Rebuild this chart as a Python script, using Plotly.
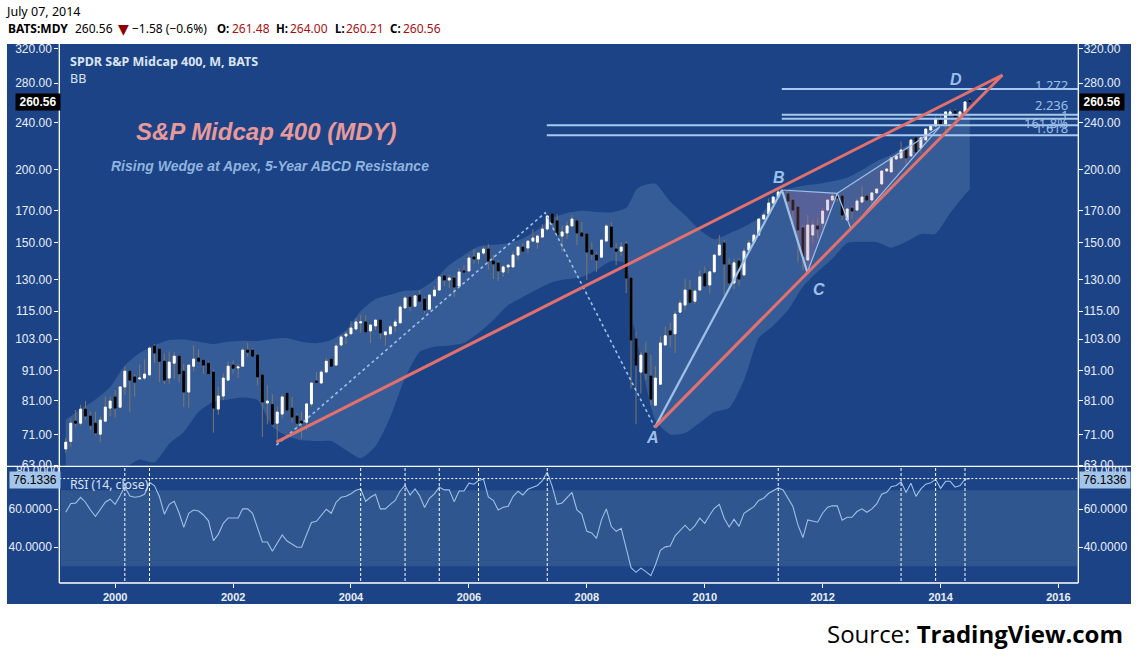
import numpy as np
import pandas as pd
import plotly.graph_objects as go

# monthly bars, Mar 1999 to Jul 2014
opens = [
    67.1, 69.1, 74.8, 74.2, 78.4, 76.3, 74.2, 71.1, 74.8, 78.7,
    82.2, 79.0, 85.5, 90.9, 88.9, 88.2, 88.5, 89.6, 100.3, 99.1, 94.5, 88.5,
    93.8, 96.4, 90.9, 83.8, 92.7, 95.7, 94.9, 93.8, 90.6, 78.4, 82.5, 87.8,
    93.1, 92.1, 92.7, 98.7, 98.7, 96.8, 89.6, 80.3, 79.8, 74.2, 76.9, 83.4,
    78.7, 76.3, 74.8, 74.5, 80.0, 87.5, 86.8, 90.6, 95.3, 93.1, 100.7, 104.3,
    105.2, 107.2, 109.8, 110.2, 106.4, 108.5, 111.0, 104.8, 105.2, 108.5, 109.8, 116.4,
    121.4, 117.2, 122.4, 120.5, 115.8, 122.0, 124.8, 131.9, 129.8, 130.8, 126.8, 134.5,
    134.5, 142.0, 140.9, 144.2, 146.5, 139.8, 138.7, 133.9, 136.6, 136.6, 143.1, 147.6,
    147.1, 151.1, 150.5, 153.5, 158.4, 168.0, 163.5, 154.1, 156.0, 160.3, 163.5, 156.0,
    155.3, 145.9, 143.1, 141.9, 151.1, 159.7, 146.5, 145.3, 149.4, 130.8, 103.1, 90.6,
    97.6, 89.2, 79.6, 86.4, 100.7, 106.4, 105.2, 114.5, 117.7, 124.8, 119.5, 124.8,
    133.0, 127.3, 134.0, 143.1, 150.0, 137.6, 128.3, 139.8, 132.4, 145.9, 150.5, 154.7,
    164.7, 168.0, 175.3, 179.5, 184.5, 181.7, 177.4, 172.6, 159.1, 140.3, 154.7, 160.3,
    162.0, 170.6, 177.4, 180.2, 180.2, 164.1, 171.9, 170.6, 176.0, 180.2, 177.4, 182.4,
    188.9, 198.7, 198.0, 208.2, 209.1, 215.7, 210.7, 226.1, 217.4, 224.3, 233.2, 236.9,
    242.5, 238.8, 247.3, 251.2, 245.4, 250.3, 261.48,
]
highs = [
    70.0, 75.7, 78.1, 79.7, 80.9, 77.6, 77.6, 76.1, 82.3, 82.3,
    84.4, 85.5, 92.7, 90.9, 89.9, 93.3, 95.2, 100.0, 101.1, 99.4, 97.4, 98.2,
    97.9, 96.4, 93.6, 93.1, 100.7, 99.1, 94.9, 94.5, 91.5, 85.5, 90.1, 94.3,
    94.9, 93.6, 99.5, 101.6, 99.4, 96.8, 89.6, 86.0, 83.1, 79.3, 82.8, 83.5,
    82.2, 77.1, 77.6, 80.0, 86.8, 90.6, 91.3, 95.7, 95.5, 101.4, 104.7, 106.1,
    110.6, 111.9, 113.2, 113.2, 108.9, 111.0, 111.0, 106.0, 108.9, 111.4, 117.7, 122.0,
    121.4, 122.4, 124.8, 121.6, 122.7, 126.8, 131.9, 131.9, 132.4, 132.1, 135.9, 137.6,
    143.1, 146.5, 144.2, 147.9, 149.4, 143.1, 140.3, 137.6, 137.6, 145.3, 147.6, 149.9,
    151.1, 158.4, 155.3, 161.4, 166.7, 168.0, 168.0, 160.3, 163.0, 167.3, 163.5, 162.8,
    155.3, 150.5, 144.8, 151.7, 161.5, 162.8, 149.9, 150.5, 151.1, 130.8, 106.0, 98.1,
    102.0, 96.8, 92.7, 104.1, 108.2, 110.0, 115.0, 120.0, 130.6, 129.8, 125.1, 135.0,
    136.8, 134.0, 143.1, 154.7, 151.7, 141.2, 141.2, 141.2, 146.9, 151.7, 155.7, 165.2,
    168.4, 178.6, 180.2, 184.5, 184.5, 182.2, 178.6, 172.6, 160.9, 167.3, 164.1, 165.2,
    171.7, 177.4, 182.1, 182.1, 181.0, 171.3, 173.3, 178.6, 186.9, 180.2, 183.1, 185.7,
    198.7, 200.5, 209.5, 211.0, 222.9, 215.7, 224.6, 226.7, 226.1, 234.5, 237.3, 245.8,
    246.4, 250.3, 252.9, 253.2, 251.2, 261.0, 264.0,
]
lows = [
    66.1, 67.7, 73.2, 73.5, 75.3, 72.2, 70.8, 68.9, 74.8, 76.3,
    75.8, 79.0, 82.8, 77.6, 82.3, 88.2, 87.8, 89.3, 93.9, 87.1, 86.4, 86.6,
    88.3, 87.1, 79.1, 78.8, 90.9, 94.2, 89.9, 89.6, 71.5, 76.6, 81.2, 87.8,
    90.0, 88.5, 92.7, 96.2, 96.2, 86.0, 70.3, 73.9, 73.9, 68.5, 75.6, 78.1,
    74.4, 71.6, 69.9, 72.2, 79.1, 86.9, 86.7, 90.6, 92.7, 93.1, 100.0, 101.1,
    105.2, 106.5, 105.6, 106.0, 101.5, 106.8, 103.1, 100.4, 104.8, 106.0, 109.8, 116.2,
    115.0, 117.2, 119.5, 114.0, 115.8, 122.0, 124.8, 126.8, 125.8, 121.4, 126.8, 133.7,
    134.5, 138.2, 138.2, 143.1, 135.2, 130.3, 129.3, 131.4, 133.4, 136.6, 140.3, 145.3,
    144.2, 151.1, 146.5, 153.5, 157.4, 159.7, 154.1, 145.0, 152.3, 160.3, 148.8, 154.1,
    129.8, 140.3, 133.9, 141.9, 151.1, 147.6, 137.6, 142.5, 123.3, 85.0, 73.9, 83.3,
    87.8, 79.6, 79.6, 86.4, 100.7, 100.0, 97.6, 114.5, 115.4, 119.0, 118.2, 124.8,
    126.8, 123.2, 134.0, 143.1, 122.4, 128.1, 125.3, 126.8, 132.4, 145.9, 150.5, 154.7,
    164.7, 168.0, 175.0, 179.5, 181.0, 170.6, 160.9, 139.4, 135.0, 140.3, 149.8, 152.7,
    158.8, 169.5, 176.2, 176.2, 164.1, 164.1, 165.2, 170.6, 176.0, 177.4, 175.2, 182.1,
    188.9, 198.5, 198.0, 208.0, 209.1, 202.1, 210.7, 214.0, 212.9, 224.3, 233.0, 236.9,
    236.9, 231.7, 247.3, 245.2, 245.2, 250.3, 260.21,
]
closes = [
    68.9, 74.2, 74.2, 78.4, 76.3, 73.6, 71.4, 75.1, 79.0, 80.9,
    78.7, 85.5, 90.9, 87.8, 87.1, 88.5, 89.9, 99.5, 97.6, 94.5, 87.8, 94.2,
    96.4, 90.0, 83.8, 93.1, 95.3, 94.5, 93.1, 90.0, 78.7, 82.5, 88.5, 92.7,
    92.0, 92.4, 98.7, 97.9, 96.4, 88.9, 80.6, 80.9, 73.9, 77.5, 82.2, 78.1,
    76.0, 74.2, 74.2, 80.0, 86.8, 87.1, 90.6, 94.5, 92.7, 100.3, 103.9, 105.1,
    107.6, 110.2, 110.2, 106.0, 108.9, 111.0, 105.6, 106.0, 108.1, 110.2, 116.8, 121.0,
    117.2, 122.0, 119.5, 115.4, 122.4, 124.8, 131.4, 129.8, 130.8, 126.3, 133.9, 133.9,
    141.4, 140.9, 144.2, 146.5, 139.8, 138.2, 134.5, 136.6, 137.6, 143.1, 147.6, 145.3,
    151.1, 152.9, 154.1, 158.4, 166.7, 162.2, 154.7, 156.6, 160.3, 164.7, 156.0, 154.1,
    144.8, 143.6, 140.3, 151.7, 160.3, 147.6, 145.3, 147.6, 130.8, 102.7, 93.1, 96.8,
    90.2, 81.5, 88.5, 101.5, 104.4, 104.8, 113.6, 118.6, 124.8, 119.0, 124.3, 131.4,
    126.8, 134.0, 143.1, 148.8, 138.2, 128.3, 138.8, 130.3, 145.3, 150.0, 154.7, 164.7,
    167.3, 175.3, 179.5, 183.1, 183.1, 176.7, 170.6, 157.8, 142.2, 160.9, 160.9, 158.4,
    169.9, 177.4, 180.2, 178.8, 167.3, 171.3, 169.9, 176.7, 179.5, 177.4, 182.4, 185.2,
    198.7, 200.3, 209.1, 210.8, 215.7, 209.1, 224.3, 214.0, 226.1, 234.1, 236.9, 243.5,
    238.8, 250.3, 250.3, 245.4, 250.3, 260.2, 260.56,
]
rsi = [
    58.4, 63.0, 63.2, 66.3, 63.7, 59.6, 56.3, 60.0, 63.7, 65.3,
    62.6, 67.2, 71.8, 67.0, 66.3, 66.7, 67.9, 74.2, 72.3, 66.7, 57.4, 62.6,
    64.2, 57.9, 50.5, 57.9, 59.6, 59.1, 57.0, 53.9, 43.5, 46.8, 52.6, 55.4,
    55.4, 55.4, 60.2, 60.2, 57.9, 50.4, 42.8, 42.8, 37.9, 42.1, 46.5, 43.3,
    41.8, 40.0, 40.0, 46.8, 53.0, 53.7, 57.0, 60.0, 57.9, 63.7, 66.3, 66.8,
    68.2, 70.0, 70.7, 64.2, 66.3, 67.9, 60.2, 60.2, 62.6, 64.6, 69.6, 72.5,
    67.5, 70.7, 67.2, 60.9, 65.8, 68.1, 71.6, 70.2, 70.2, 64.0, 69.6, 69.6,
    73.7, 73.2, 75.1, 75.8, 66.5, 64.7, 59.6, 61.1, 61.6, 66.7, 69.5, 67.5,
    70.5, 71.4, 72.5, 75.1, 79.5, 71.9, 62.6, 63.3, 66.3, 68.9, 59.6, 57.5,
    48.4, 47.5, 44.7, 54.4, 60.2, 50.9, 48.4, 50.0, 39.5, 29.3, 26.8, 29.0,
    27.2, 25.1, 30.7, 38.4, 40.2, 40.7, 46.0, 48.6, 51.6, 48.8, 51.4, 55.3,
    52.6, 57.0, 60.5, 62.6, 55.3, 50.7, 54.7, 51.0, 57.9, 59.6, 61.4, 64.6,
    65.8, 68.4, 69.6, 71.2, 70.2, 65.8, 61.4, 51.8, 45.1, 54.4, 53.9, 53.2,
    57.9, 61.1, 61.8, 61.8, 54.2, 55.8, 55.8, 58.8, 60.2, 58.4, 60.2, 62.8,
    67.9, 68.9, 71.9, 72.5, 74.4, 68.8, 73.7, 66.8, 70.7, 73.2, 73.9, 75.8,
    71.0, 74.7, 74.7, 71.6, 72.5, 75.8, 76.13,
]

# Bollinger bands read every third bar plus the Oct/Nov 2008 jump
bb_idx = sorted(list(range(0, 184, 3)) + [115, 116, 184])
bb_upper = [
    75.3, 78.3, 81.4, 85.5, 93.0, 97.6, 100.6, 102.7, 102.9, 102.0, 101.1, 102.0, 102.4,
    102.3, 103.2, 103.5, 102.0, 101.4, 102.7, 106.7, 114.9, 120.5, 122.6, 124.5, 125.0,
    129.8, 137.7, 143.0, 147.9, 148.9, 149.9, 152.7, 157.8, 165.2, 168.6, 170.1, 169.3,
    169.0, 172.0, 177.4, 184.5, 187.2, 189.0, 176.2, 167.2, 157.8, 152.2, 155.7, 159.8,
    165.2, 178.6, 185.0, 187.6, 188.9, 190.9, 193.6, 199.5, 206.5, 211.5, 219.0, 228.0,
    238.0, 243.0, 246.0, 247.0,
]
bb_lower = [
    60.0, 60.0, 61.0, 61.5, 62.4, 64.4, 63.7, 68.5, 71.7, 77.6, 80.7, 81.4, 82.0,
    81.2, 73.2, 70.6, 69.4, 69.2, 69.2, 66.8, 64.7, 67.8, 76.0, 88.5, 98.0,
    100.0, 100.5, 101.5, 105.5, 111.0, 117.7, 121.5, 125.3, 128.7, 130.3, 131.4, 135.0,
    139.8, 138.3, 112.5, 105.0, 94.9, 75.1, 71.0, 71.4, 74.3, 77.5, 78.7, 87.8,
    103.5, 108.6, 115.4, 126.4, 134.0, 141.0, 150.0, 150.7, 150.6, 147.3, 150.7, 155.4,
    155.4, 168.6, 181.3, 185.0,
]

# hand drawn objects on the chart
wedge_upper_x = ["2002-09-26", "2015-01-19"]
wedge_upper_y = [68.9, 289.1]
wedge_lower_x = ["2009-02-26", "2015-01-19"]
wedge_lower_y = [73.0, 289.1]
swing_x = ["2002-09-26", "2007-04-18", "2009-02-26"]
swing_y = [68.1, 168.8, 73.0]
ab_x = ["2009-02-26", "2011-04-24", "2011-09-28"]
ab_y = [73.0, 184.5, 133.8]
tri1_x = ["2011-04-24", "2011-09-28", "2012-04-01", "2011-04-24"]
tri1_y = [184.5, 133.8, 182.1, 184.5]
tri2_x = ["2012-04-01", "2012-06-25", "2013-12-28", "2012-04-01"]
tri2_y = [182.1, 158.4, 236.2, 182.1]
fib_levels = [273.7, 247.6, 243.7, 237.5, 228.4]
fib_starts = ["2011-04-23", "2011-04-23", "2011-04-23", "2007-04-28", "2007-04-28"]
rsi_marks = [12, 17, 60, 69, 76, 84, 98, 145, 170, 177, 183]

price_ticks = [320, 280, 240, 200, 170, 150, 130, 115, 103, 91, 81, 71, 63]
rsi_ticks = [80, 60, 40]
year_ticks = [2000, 2002, 2004, 2006, 2008, 2010, 2012, 2014, 2016]

last_close = 260.56
last_rsi = 76.1336

BLUE = "#1c4386"
BAND = "#365c98"
LIGHT = "#9dc0e8"
RED = "#e2706c"
AXIS_TEXT = "#e9eef6"
W, H = 1138, 661

dates = pd.date_range("1999-03-01", periods=len(closes), freq="MS").strftime("%Y-%m-%d").tolist()
bb_x = [dates[i] for i in bb_idx]
x_end = "2016-05-03"

fig = go.Figure()

# Bollinger band area sits on the base axis, so it stays under the candles
fig.add_trace(go.Scatter(x=bb_x, y=bb_lower, mode="lines", line=dict(width=0, shape="spline", smoothing=0.6)))
fig.add_trace(go.Scatter(x=bb_x, y=bb_upper, mode="lines", line=dict(width=0, shape="spline", smoothing=0.6),
                         fill="tonexty", fillcolor=BAND))

# wicks first, then clean bodies on top
fig.add_trace(go.Candlestick(x=dates, open=opens, high=highs, low=lows, close=closes, whiskerwidth=0, yaxis="y3",
                             increasing=dict(line=dict(color="#7d7869", width=1), fillcolor="#7d7869"),
                             decreasing=dict(line=dict(color="#7d7869", width=1), fillcolor="#7d7869")))
body_top = [max(a, b) for a, b in zip(opens, closes)]
body_bot = [min(a, b) for a, b in zip(opens, closes)]
fig.add_trace(go.Candlestick(x=dates, open=opens, high=body_top, low=body_bot, close=closes, whiskerwidth=0, yaxis="y3",
                             increasing=dict(line=dict(color="white", width=1), fillcolor="white"),
                             decreasing=dict(line=dict(color="black", width=1), fillcolor="black")))

# drawings go on one more overlay, above the candles
fig.add_trace(go.Scatter(x=swing_x, y=swing_y, mode="lines", yaxis="y5", line=dict(color=LIGHT, width=1.6, dash="dot")))
fig.add_trace(go.Scatter(x=tri1_x, y=tri1_y, mode="lines", yaxis="y5", fill="toself",
                         fillcolor="rgba(170,110,150,0.27)", line=dict(color=LIGHT, width=1.2)))
fig.add_trace(go.Scatter(x=tri2_x, y=tri2_y, mode="lines", yaxis="y5", fill="toself",
                         fillcolor="rgba(170,110,150,0.14)", line=dict(color=LIGHT, width=1.2)))
fig.add_trace(go.Scatter(x=ab_x, y=ab_y, mode="lines", yaxis="y5", line=dict(color=LIGHT, width=2.2)))
for level, start in zip(fib_levels, fib_starts):
    fig.add_trace(go.Scatter(x=[start, x_end], y=[level, level], mode="lines", yaxis="y5",
                             line=dict(color="#a9c9ec", width=2)))
fig.add_trace(go.Scatter(x=wedge_upper_x, y=wedge_upper_y, mode="lines", yaxis="y5", line=dict(color=RED, width=3)))
fig.add_trace(go.Scatter(x=wedge_lower_x, y=wedge_lower_y, mode="lines", yaxis="y5", line=dict(color=RED, width=3)))

# RSI panel
fig.add_trace(go.Scatter(x=dates, y=rsi, mode="lines", yaxis="y2", line=dict(color=LIGHT, width=1.1)))
# copy so the right hand RSI axis gets drawn
fig.add_trace(go.Scatter(x=dates, y=rsi, mode="lines", yaxis="y4", line=dict(width=0), opacity=0))


def px(x):
    return x / W


def py(y):
    return 1 - y / H


price_range = [np.log10(62.9), np.log10(326.3)]
rsi_range = [21.2, 82.6]
y_dom = [py(465.5), py(44)]
y2_dom = [py(583), py(466.3)]
tick_font = dict(family="Liberation Sans", size=12, color=AXIS_TEXT)
price_axis = dict(type="log", range=price_range, domain=y_dom, tickmode="array", tickvals=price_ticks,
                  ticktext=[f"{v:.2f}" for v in price_ticks], ticks="outside", ticklen=4, tickcolor="white",
                  tickfont=tick_font, showgrid=False, zeroline=False, showline=False)
# the 80 label is half hidden in the reference, it is written as a note further down
rsi_axis = dict(range=rsi_range, domain=y2_dom, tickmode="array", tickvals=rsi_ticks,
                ticktext=["" if v == 80 else f"{v:.4f}" for v in rsi_ticks], ticks="outside", ticklen=4,
                tickcolor="white", tickfont=tick_font, showgrid=False, zeroline=False, showline=False)

shapes = [
    # panel and RSI band
    dict(type="rect", xref="paper", yref="paper", x0=px(7), x1=px(1131), y0=py(604), y1=py(44),
         fillcolor=BLUE, line_width=0, layer="below"),
    dict(type="rect", xref="paper", yref="y2", x0=px(61), x1=px(1077), y0=30, y1=70,
         fillcolor="#30568f", line_width=0, layer="below"),
    # cut the 63.00 labels at the panel edge
    dict(type="rect", xref="paper", yref="paper", x0=px(7), x1=px(59), y0=py(473), y1=py(466),
         fillcolor=BLUE, line_width=0),
    dict(type="rect", xref="paper", yref="paper", x0=px(1079), x1=px(1131), y0=py(473), y1=py(466),
         fillcolor=BLUE, line_width=0),
    # frame
    dict(type="line", xref="paper", yref="paper", x0=px(59.3), x1=px(59.3), y0=py(583), y1=py(44),
         line=dict(color="white", width=1.3)),
    dict(type="line", xref="paper", yref="paper", x0=px(1078.3), x1=px(1078.3), y0=py(583), y1=py(44),
         line=dict(color="white", width=1.3)),
    dict(type="line", xref="paper", yref="paper", x0=px(7), x1=px(1131), y0=py(466.3), y1=py(466.3),
         line=dict(color="white", width=1.3)),
    dict(type="line", xref="paper", yref="paper", x0=px(59.3), x1=px(1078.3), y0=py(583), y1=py(583),
         line=dict(color="white", width=1.3)),
    # RSI last value
    dict(type="line", xref="paper", yref="y2", x0=px(59.3), x1=px(1078.3), y0=last_rsi, y1=last_rsi,
         line=dict(color="white", width=1, dash="2px,2px")),
]
for i in rsi_marks:
    shapes.append(dict(type="line", xref="x", yref="paper", x0=dates[i], x1=dates[i], y0=py(581), y1=py(466.3),
                       line=dict(color="white", width=1, dash="3px,2px")))


def note(text, x, y, size=12, color="black", family="Noto Sans", xanchor="left", **kw):
    return dict(text=text, xref="paper", yref="paper", x=px(x), y=py(y), xanchor=xanchor, yanchor="middle",
                showarrow=False, font=dict(size=size, color=color, family=family), borderpad=0, **kw)


DARK_RED = "#a80f0f"
annotations = [
    note("July 07, 2014", 5, 12, size=12.5),
    note("<b>BATS:MDY</b>", 7, 29, size=12),
    note("260.56", 74, 29, size=12),
    note("▼", 117, 29, size=14, color="#8c0000", family="DejaVu Sans"),
    note("−1.58 (−0.6%)", 131, 29, size=12),
    note("<b>O:</b>", 216, 29, size=11.5),
    note("261.48", 231, 29, size=12, color=DARK_RED),
    note("<b>H:</b>", 275, 29, size=11.5),
    note("264.00", 289, 29, size=12, color=DARK_RED),
    note("<b>L:</b>", 334, 29, size=11.5),
    note("260.21", 345, 29, size=12, color=DARK_RED),
    note("<b>C:</b>", 389, 29, size=11.5),
    note("260.56", 402, 29, size=12, color=DARK_RED),
    note("<b>SPDR S&P Midcap 400, M, BATS</b>", 69, 61, size=12.5, color="#dbe4f1"),
    note("BB", 69, 78, size=12.5, color="#dbe4f1"),
    note("RSI (14, close)", 69, 484, size=12.2, color="#dbe4f1"),
    note("<b><i>S&P Midcap 400 (MDY)</i></b>", 266, 132, size=24, color="#e89a9a", family="Liberation Sans",
         xanchor="center"),
    note("<b><i>Rising Wedge at Apex, 5-Year ABCD Resistance</i></b>", 270, 166, size=14, color="#8fb4de",
         family="Liberation Sans", xanchor="center"),
    note("<b><i>A</i></b>", 652, 437, size=16, color=LIGHT, family="Liberation Sans", xanchor="center"),
    note("<b><i>B</i></b>", 779, 178, size=16, color=LIGHT, family="Liberation Sans", xanchor="center"),
    note("<b><i>C</i></b>", 819, 289, size=16, color=LIGHT, family="Liberation Sans", xanchor="center"),
    note("<b><i>D</i></b>", 956, 80, size=16, color=LIGHT, family="Liberation Sans", xanchor="center"),
    note("1.272", 1069, 85, size=13, color=LIGHT, xanchor="right"),
    note("2.236", 1069, 105, size=13, color=LIGHT, xanchor="right"),
    note("1", 1069, 115, size=13, color=LIGHT, xanchor="right"),
    note("161.8%", 1069, 123, size=13, color=LIGHT, xanchor="right"),
    note("1.618", 1069, 128, size=13, color=LIGHT, xanchor="right"),
    note("Source: <b>TradingView.com</b>", 1124, 633, size=24, xanchor="right", family="Open Sans"),
    note("80.0000", 15, 471, size=12, color=AXIS_TEXT, family="Liberation Sans"),
    note("80.0000", 1083, 471, size=12, color=AXIS_TEXT, family="Liberation Sans"),
    note(f"<b>{last_close:.2f}</b>", 15, 102, size=12, color="white", family="Liberation Sans",
         bgcolor="black", width=44, height=16),
    note(f"<b>{last_close:.2f}</b>", 1078.5, 102, size=12, color="white", family="Liberation Sans",
         bgcolor="black", width=44, height=16),
    note(f"{last_rsi:.4f}", 9, 480, size=12, color="black", family="Liberation Sans",
         bgcolor="#a3c5e9", width=50, height=16),
    note(f"{last_rsi:.4f}", 1078.5, 480, size=12, color="black", family="Liberation Sans",
         bgcolor="#a3c5e9", width=50, height=16),
]

fig.update_layout(
    width=W,
    height=H,
    margin=dict(l=0, r=0, t=0, b=0, autoexpand=False),
    paper_bgcolor="white",
    plot_bgcolor="rgba(0,0,0,0)",
    showlegend=False,
    hovermode=False,
    boxgap=0.4,
    xaxis=dict(
        type="date",
        domain=[px(59.3), px(1078.3)],
        range=["1999-01-20", x_end],
        anchor="y2",
        rangeslider=dict(visible=False),
        tickmode="array",
        tickvals=[f"{y}-01-01" for y in year_ticks],
        ticktext=[f"<b>{y}</b>" for y in year_ticks],
        ticks="outside",
        ticklen=4,
        tickcolor="white",
        tickfont=dict(family="Liberation Sans", size=11, color=AXIS_TEXT),
        showgrid=False,
        zeroline=False,
    ),
    yaxis=dict(**price_axis, anchor="x"),
    yaxis2=dict(**rsi_axis, anchor="x"),
    yaxis3=dict(**price_axis, overlaying="y", side="right", anchor="x", ticklabelstandoff=-2),
    yaxis4=dict(**rsi_axis, overlaying="y2", side="right", anchor="x", ticklabelstandoff=-2),
    yaxis5=dict(type="log", range=price_range, domain=y_dom, overlaying="y", visible=False, anchor="x"),
    shapes=shapes,
    annotations=annotations,
)

fig.write_html("out.html", config=dict(displayModeBar=False), post_script="document.body.style.margin='0'")
